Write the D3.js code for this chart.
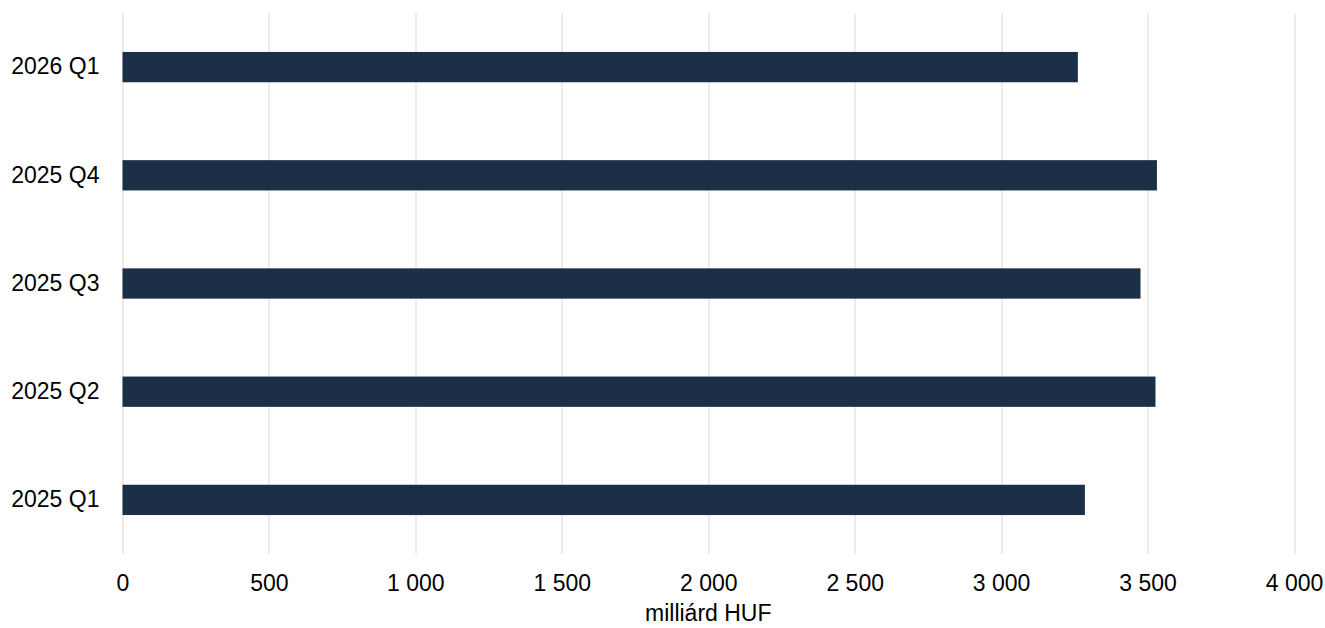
<!DOCTYPE html>
<html>
<head>
<meta charset="utf-8">
<script src="https://cdn.jsdelivr.net/npm/d3@7"></script>
<style>
  body { margin: 0; background: #fff; }
  text { font-family: "Liberation Sans", Arial, sans-serif; fill: #000; }
</style>
</head>
<body>
<svg id="chart"></svg>
<script>
const quarters = ["2026 Q1", "2025 Q4", "2025 Q3", "2025 Q2", "2025 Q1"],
      values = [3262, 3532, 3476, 3527, 3286],
      xTicks = [0, 500, 1000, 1500, 2000, 2500, 3000, 3500, 4000],
      xTitle = "milliárd HUF";

const W = 1325, H = 628,
      margin = {top: 13, right: 31, bottom: 74, left: 122.5},
      width = W - margin.left - margin.right,
      height = H - margin.top - margin.bottom;

// scales
let x = d3.scaleLinear()
          .domain([0, 4000])
          .range([0, width]);

let y = d3.scaleBand()
          .domain(quarters)
          .range([0, height])
          .paddingInner(0.72)
          .paddingOuter(0.36);

// thousands separated by a space
let fmt = (d) => d3.format(",")(d).replace(/,/g, " ");

let svg = d3.select("#chart")
            .attr("width", W)
            .attr("height", H);

let chart = svg.append("g")
               .attr("transform", "translate(" + margin.left + "," + margin.top + ")");

// vertical grid lines
chart.selectAll(".grid")
     .data(xTicks)
     .enter().append("line")
     .attr("class", "grid")
     .attr("x1", (d) => Math.round(x(d)) + 0.5)
     .attr("x2", (d) => Math.round(x(d)) + 0.5)
     .attr("y1", 0)
     .attr("y2", height)
     .style("stroke", "#dadada")
     .style("stroke-width", 1);

// bars
chart.selectAll(".bar")
     .data(quarters)
     .enter().append("rect")
     .attr("class", "bar")
     .attr("x", x(0))
     .attr("y", (d) => y(d))
     .attr("height", y.bandwidth())
     .attr("width", (d, i) => x(values[i]) - x(0))
     .style("fill", "#1b3047");

// x-axis labels
let xAxis = d3.axisBottom(x)
              .tickValues(xTicks)
              .tickFormat(fmt)
              .tickSize(0)
              .tickPadding(21);

chart.append("g")
     .attr("class", "axis")
     .attr("transform", "translate(0," + height + ")")
     .call(xAxis)
     .call((g) => g.select(".domain").remove())
     .selectAll("text")
     .style("font-size", "23px")
     .style("font-family", "'Liberation Sans', Arial, sans-serif")
     .style("fill", "#000");

// y-axis labels
let yAxis = d3.axisLeft(y)
              .tickSize(0)
              .tickPadding(23);

chart.append("g")
     .attr("class", "axis")
     .call(yAxis)
     .call((g) => g.select(".domain").remove())
     .selectAll("text")
     .style("font-size", "23px")
     .style("font-family", "'Liberation Sans', Arial, sans-serif")
     .style("fill", "#000");

// x-axis title
chart.append("text")
     .attr("x", width / 2)
     .attr("y", height + 67)
     .style("text-anchor", "middle")
     .style("font-size", "23px")
     .text(xTitle);
</script>
</body>
</html>
